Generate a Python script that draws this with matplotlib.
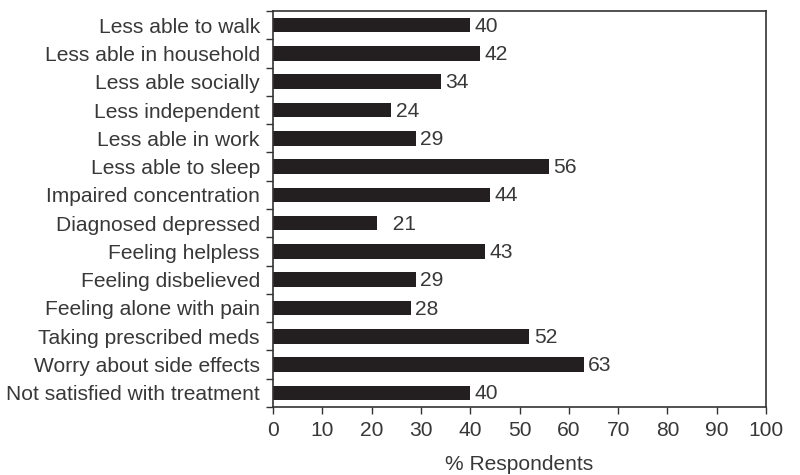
import matplotlib
matplotlib.use("Agg")
import matplotlib.pyplot as plt

categories = [
    "Less able to walk",
    "Less able in household",
    "Less able socially",
    "Less independent",
    "Less able in work",
    "Less able to sleep",
    "Impaired concentration",
    "Diagnosed depressed",
    "Feeling helpless",
    "Feeling disbelieved",
    "Feeling alone with pain",
    "Taking prescribed meds",
    "Worry about side effects",
    "Not satisfied with treatment",
]
values = [40, 42, 34, 24, 29, 56, 44, 21, 43, 29, 28, 52, 63, 40]
value_labels = ["40", "42", "34", "24", "29", "56", "44", "  21", "43", "29", "28", "52", "63", "40"]
x_ticks = [0, 10, 20, 30, 40, 50, 60, 70, 80, 90, 100]

plt.rcParams["font.family"] = ["Liberation Sans", "DejaVu Sans"]
text_color = "#383838"
bar_color = "#231f20"
fs = 15.1

fig = plt.figure(figsize=(8, 4.75), dpi=100)
ax = fig.add_axes([273 / 800, 1 - 407 / 475, (766 - 273) / 800, (407 - 11) / 475])

n = len(categories)
ypos = list(range(n))
ax.barh(ypos, values, height=0.52, color=bar_color, zorder=2)
for y, v, lab in zip(ypos, values, value_labels):
    ax.text(v + 0.9, y + 0.04, lab, va="center", ha="left", fontsize=fs, color=text_color)

ax.set_xlim(0, 100)
ax.set_ylim(n - 0.5, -0.5)
ax.set_xticks(x_ticks)
ax.set_xticklabels([str(t) for t in x_ticks], fontsize=fs, color=text_color)

# category names centred on bars, ticks on the row boundaries
ax.set_yticks(ypos)
ax.set_yticklabels(categories, fontsize=fs, color=text_color)
ax.tick_params(axis="y", which="major", length=0, pad=9.5)
ax.set_yticks([i + 0.5 for i in range(-1, n)], minor=True)
ax.tick_params(axis="y", which="minor", length=5, width=1, color="#333333", direction="out")
ax.tick_params(axis="x", length=5, width=1, color="#333333", direction="out", pad=5)

for s in ax.spines.values():
    s.set_color("#333333")
    s.set_linewidth(1.2)

ax.set_xlabel("% Respondents", fontsize=fs, color=text_color, labelpad=11)

fig.savefig("out.png", dpi=100)
